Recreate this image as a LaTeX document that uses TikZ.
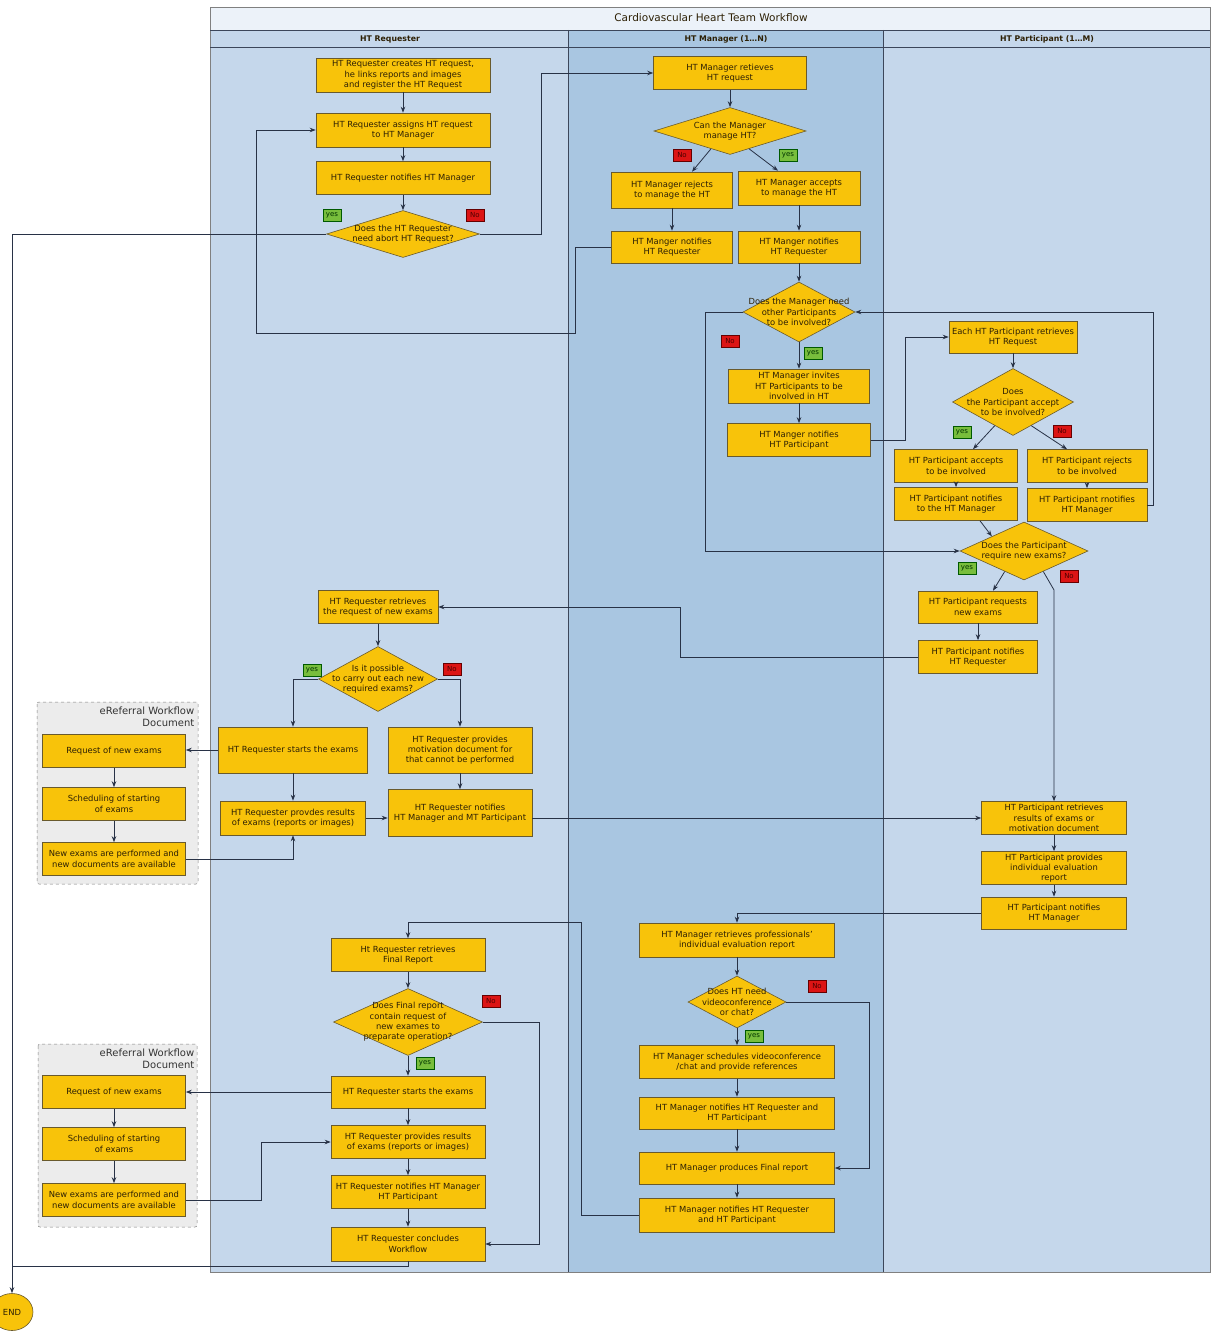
\documentclass[tikz,border=0pt]{standalone}
\usepackage{fontspec}
\setmainfont{DejaVu Sans}
\usepackage{xcolor}
\usepackage{tikz}
\usetikzlibrary{arrows.meta}
\usetikzlibrary{shapes.geometric, positioning, arrows, calc}

\definecolor{box}{RGB}{248,195,10}
\definecolor{boxline}{RGB}{105,90,45}
\definecolor{txt}{RGB}{45,32,5}
\definecolor{lanelight}{RGB}{197,215,235}
\definecolor{lanedark}{RGB}{169,198,225}
\definecolor{titlebar}{RGB}{236,242,249}
\definecolor{laneline}{RGB}{60,70,90}
\definecolor{conn}{RGB}{40,50,70}
\definecolor{yesgreen}{RGB}{120,190,60}
\definecolor{nored}{RGB}{220,20,20}
\definecolor{groupfill}{RGB}{236,236,236}

\begin{document}
\begin{tikzpicture} [
	x=1pt, y=-1pt, % one unit is one pixel, y grows downwards
	->, % makes the connectors directed
	>={Stealth[length=6pt, width=4.5pt]}, % arrow heads
	color=conn, line width=0.8pt,
	node distance=50pt, % distance between the centres of two boxes. Changed per node where needed.
	every node/.style={font=\fontsize{8.4}{10.3}\selectfont, text=txt},
	every label/.style={align=center},
	task/.style={rectangle, draw=boxline, fill=box, line width=0.6pt, align=center, inner sep=1pt, minimum height=33pt},
	decision/.style={diamond, draw=boxline, fill=box, line width=0.6pt, inner sep=0pt},
	yeslabel/.style={draw=green!35!black, fill=yesgreen, line width=0.4pt, inner sep=0.5pt, minimum width=18pt, minimum height=12pt, text=green!20!black, font=\fontsize{7}{8}\selectfont},
	nolabel/.style={draw=red!40!black, fill=nored, line width=0.4pt, inner sep=0.5pt, minimum width=18pt, minimum height=12pt, text=red!30!black, font=\fontsize{7}{8}\selectfont},
	endstate/.style={ellipse, draw=boxline, fill=box, line width=0.6pt, minimum width=42pt, minimum height=37pt, inner sep=0pt},
	]
	\useasboundingbox (0,0) rectangle (1212,1332);

	% swimlanes
	\begin{scope}[-, line width=0.6pt]
		\fill[titlebar] (210,7) rectangle (1210,30);
		\fill[lanelight] (210,30) rectangle (568,1272);
		\fill[lanedark] (568,30) rectangle (883,1272);
		\fill[lanelight] (883,30) rectangle (1210,1272);
		\draw[gray] (210,7) rectangle (1210,1272);
		\draw[laneline] (210,30) -- (1210,30) (210,47) -- (1210,47) (568,30) -- (568,1272) (883,30) -- (883,1272);
		\draw[dashed, gray, fill=groupfill, rounded corners=2pt, line width=0.5pt] (37,702) rectangle (198,884);
		\draw[dashed, gray, fill=groupfill, rounded corners=2pt, line width=0.5pt] (38,1044) rectangle (197,1227);
	\end{scope}
	\node[font=\fontsize{10.5}{12}\selectfont] (title) at (711,18) {Cardiovascular Heart Team Workflow};
	\node[font=\fontsize{7.8}{9}\selectfont\bfseries] (hreq) at (390,39) {HT Requester};
	\node[font=\fontsize{7.8}{9}\selectfont\bfseries] (hman) at (726,39) {HT Manager (1…N)};
	\node[font=\fontsize{7.8}{9}\selectfont\bfseries] (hpart) at (1047,39) {HT Participant (1…M)};
	\node[anchor=north east, align=right, font=\fontsize{10}{12.5}\selectfont, text=black!80] (grp1) at (198,703) {eReferral Workflow\\Document};
	\node[anchor=north east, align=right, font=\fontsize{10}{12.5}\selectfont, text=black!80] (grp2) at (198,1045) {eReferral Workflow\\Document};

	% HT Requester
	\node[task, minimum width=174pt, minimum height=34pt] (r1) at (403,75) {HT Requester creates HT request,\\he links reports and images\\and register the HT Request};
	\node[task, minimum width=174pt, minimum height=34pt, node distance=55pt, below of=r1] (r2) {HT Requester assigns HT request\\to HT Manager};
	\node[task, minimum width=174pt, node distance=48pt, below of=r2] (r3) {HT Requester notifies HT Manager};
	\node[decision, minimum width=153pt, minimum height=47pt, label={center:{Does the HT Requester\\need abort HT Request?}}] (d1) at (403,234) {};
	\node[task, minimum width=120pt] (r4) at (378,607) {HT Requester retrieves\\the request of new exams};
	\node[decision, minimum width=119pt, minimum height=65pt, node distance=72pt, below of=r4, label={center:{Is it possible\\to carry out each new\\required exams?}}] (rd1) {};
	\node[task, minimum width=149pt, minimum height=46pt] (r5) at (293,750) {HT Requester starts the exams};
	\node[task, minimum width=144pt, minimum height=46pt] (r6) at (460,750) {HT Requester provides\\motivation document for\\that cannot be performed};
	\node[task, minimum width=145pt, minimum height=34pt, node distance=68pt, below of=r5] (r7) {HT Requester provdes results\\of exams (reports or images)};
	\node[task, minimum width=144pt, minimum height=47pt, node distance=63pt, below of=r6] (r8) {HT Requester notifies\\HT Manager and MT Participant};
	\node[task, minimum width=154pt] (r9) at (408,955) {Ht Requester retrieves\\Final Report};
	\node[decision, minimum width=149pt, minimum height=67pt, node distance=67pt, below of=r9, label={center:{Does Final report\\contain request of\\new exames to\\preparate operation?}}] (rd2) {};
	\node[task, minimum width=154pt, minimum height=32pt, node distance=70pt, below of=rd2] (r10) {HT Requester starts the exams};
	\node[task, minimum width=154pt, below of=r10] (r11) {HT Requester provides results\\of exams (reports or images)};
	\node[task, minimum width=154pt, below of=r11] (r12) {HT Requester notifies HT Manager\\HT Participant};
	\node[task, minimum width=154pt, minimum height=34pt, node distance=52pt, below of=r12] (r13) {HT Requester concludes\\Workflow};

	% eReferral documents
	\node[task, minimum width=143pt] (e1) at (114,751) {Request of new exams};
	\node[task, minimum width=143pt, node distance=53pt, below of=e1] (e2) {Scheduling of starting\\of exams};
	\node[task, minimum width=143pt, node distance=55pt, below of=e2] (e3) {New exams are performed and\\new documents are available};
	\node[task, minimum width=143pt] (e4) at (114,1092) {Request of new exams};
	\node[task, minimum width=143pt, node distance=52pt, below of=e4] (e5) {Scheduling of starting\\of exams};
	\node[task, minimum width=143pt, node distance=56pt, below of=e5] (e6) {New exams are performed and\\new documents are available};
	\node[endstate] (endn) at (12,1312) {END};
	\coordinate (join) at (12,1266);

	% HT Manager
	\node[task, minimum width=153pt] (m1) at (730,73) {HT Manager retieves\\HT request};
	\node[decision, minimum width=152pt, minimum height=47pt, node distance=58pt, below of=m1, label={center:{Can the Manager\\manage HT?}}] (md1) {};
	\node[task, minimum width=121pt, minimum height=36pt] (m2) at (672,190) {HT Manager rejects\\to manage the HT};
	\node[task, minimum width=122pt, minimum height=34pt] (m3) at (799,188) {HT Manager accepts\\to manage the HT};
	\node[task, minimum width=121pt, minimum height=32pt, node distance=57pt, below of=m2] (m4) {HT Manger notifies\\HT Requester};
	\node[task, minimum width=122pt, minimum height=32pt, node distance=59pt, below of=m3] (m5) {HT Manger notifies\\HT Requester};
	\node[decision, minimum width=112pt, minimum height=60pt, label={center:{Does the Manager need\\other Participants\\to be involved?}}] (md2) at (799,312) {};
	\node[task, minimum width=141pt, minimum height=34pt, node distance=74pt, below of=md2] (m6) {HT Manager invites\\HT Participants to be\\involved in HT};
	\node[task, minimum width=143pt, node distance=54pt, below of=m6] (m7) {HT Manger notifies\\HT Participant};
	\node[task, minimum width=195pt, minimum height=34pt] (m8) at (737,940) {HT Manager retrieves professionals'\\individual evaluation report};
	\node[decision, minimum width=98pt, minimum height=52pt, node distance=62pt, below of=m8, label={center:{Does HT need\\videoconference\\or chat?}}] (md3) {};
	\node[task, minimum width=195pt, node distance=60pt, below of=md3] (m9) {HT Manager schedules videoconference\\/chat and provide references};
	\node[task, minimum width=195pt, minimum height=32pt, node distance=51pt, below of=m9] (m10) {HT Manager notifies HT Requester and\\HT Participant};
	\node[task, minimum width=195pt, minimum height=32pt, node distance=55pt, below of=m10] (m11) {HT Manager produces Final report};
	\node[task, minimum width=195pt, minimum height=34pt, node distance=47pt, below of=m11] (m12) {HT Manager notifies HT Requester\\and HT Participant};

	% HT Participant
	\node[task, minimum width=128pt, minimum height=32pt] (p1) at (1013,337) {Each HT Participant retrieves\\HT Request};
	\node[decision, minimum width=121pt, minimum height=67pt, node distance=65pt, below of=p1, label={center:{Does\\the Participant accept\\to be involved?}}] (pd1) {};
	\node[task, minimum width=123pt] (p2) at (956,466) {HT Participant accepts\\to be involved};
	\node[task, minimum width=120pt] (p3) at (1087,466) {HT Participant rejects\\to be involved};
	\node[task, minimum width=123pt, node distance=38pt, below of=p2] (p4) {HT Participant notifies\\to the HT Manager};
	\node[task, minimum width=120pt, node distance=39pt, below of=p3] (p5) {HT Participant rnotifies\\HT Manager};
	\node[decision, minimum width=128pt, minimum height=58pt, label={center:{Does the Participant\\require new exams?}}] (pd2) at (1024,551) {};
	\node[task, minimum width=119pt, minimum height=32pt] (p6) at (978,607) {HT Participant requests\\new exams};
	\node[task, minimum width=119pt, below of=p6] (p7) {HT Participant notifies\\HT Requester};
	\node[task, minimum width=145pt] (p8) at (1054,818) {HT Participant retrieves\\results of exams or\\motivation document};
	\node[task, minimum width=145pt, below of=p8] (p9) {HT Participant provides\\individual evaluation\\report};
	\node[task, minimum width=145pt, minimum height=32pt, node distance=45pt, below of=p9] (p10) {HT Participant notifies\\HT Manager};

	% yes / No tags
	\node[yeslabel] (yes1) at (332,215) {yes};
	\node[nolabel] (no1) at (475,215) {No};
	\node[nolabel] (no2) at (682,155) {No};
	\node[yeslabel] (yes2) at (788,155) {yes};
	\node[nolabel] (no3) at (730,341) {No};
	\node[yeslabel] (yes3) at (813,353) {yes};
	\node[yeslabel] (yes4) at (962,432) {yes};
	\node[nolabel] (no4) at (1062,431) {No};
	\node[yeslabel] (yes5) at (967,568) {yes};
	\node[nolabel] (no5) at (1069,576) {No};
	\node[yeslabel] (yes6) at (312,670) {yes};
	\node[nolabel] (no6) at (452,669) {No};
	\node[nolabel] (no7) at (491,1001) {No};
	\node[yeslabel] (yes7) at (425,1063) {yes};
	\node[nolabel] (no8) at (817,986) {No};
	\node[yeslabel] (yes8) at (754,1036) {yes};

	% straight flows
	\path
		(r1) edge (r2)
		(r2) edge (r3)
		(r3) edge (d1)
		(r4) edge (rd1)
		(r5) edge (r7)
		(r6) edge (r8)
		(r9) edge (rd2)
		(rd2) edge (r10)
		(r10) edge (r11)
		(r11) edge (r12)
		(r12) edge (r13)
		(e1) edge (e2)
		(e2) edge (e3)
		(e4) edge (e5)
		(e5) edge (e6)
		(m1) edge (md1)
		(m2) edge (m4)
		(m3) edge (m5)
		(m5.south) edge (md2.north)
		(md2) edge (m6)
		(m6) edge (m7)
		(m8) edge (md3)
		(md3) edge (m9)
		(m9) edge (m10)
		(m10) edge (m11)
		(m11) edge (m12)
		(p1) edge (pd1)
		(p2) edge (p4)
		(p3) edge (p5)
		(p6) edge (p7)
		(p8) edge (p9)
		(p9) edge (p10)
		($(md1.south)!0.25!(md1.west)$) edge ([xshift=20pt]m2.north)
		($(md1.south)!0.25!(md1.east)$) edge ([xshift=-21pt]m3.north)
		($(pd1.south)!0.3!(pd1.west)$) edge ([xshift=17pt]p2.north)
		($(pd1.south)!0.3!(pd1.east)$) edge ([xshift=-20pt]p3.north)
		([xshift=24pt]p4.south) edge ($(pd2.north)!0.5!(pd2.west)$)
		($(pd2.south)!0.3!(pd2.west)$) edge ([xshift=15pt]p6.north)
		(r7.east) edge (r7.east -| r8.west)
		(r8.east |- p8.west) edge (p8.west)
		(r5.west) edge (r5.west -| e1.east)
		(r10.west) edge (e4.east)
	;

	% routed flows
	\draw (d1.west) -| (endn.north);
	\draw[-] (r13.south) |- (join);
	\draw (d1.east) -- (541,234) |- (m1.west);
	\draw (m4.west) -| (575,333) -- (256,333) |- (r2.west);
	\draw (m7.east) -- (905,440) |- (p1.west);
	\draw (md2.west) -- (705,312) |- (pd2.west);
	\draw (p5.east) -- (1153,505) |- (md2.east);
	\draw ($(pd2.south)!0.3!(pd2.east)$) -- (1054,590) -- (p8.north);
	\draw (p7.west) -- (680,657) |- (r4.east);
	\draw (rd1.west) -| (r5.north);
	\draw (rd1.east) -| (r6.north);
	\draw (e3.east) -| (r7.south);
	\draw (p10.west) -| (m8.north);
	\draw (md3.east) -- (869,1002) |- (m11.east);
	\draw (m12.west) -- (581,1215) -- (581,922) -| (r9.north);
	\draw (rd2.east) -- (539,1022) |- (r13.east);
	\draw (e6.east) -- (261,1200) |- (r11.west);
\end{tikzpicture}
\end{document}
